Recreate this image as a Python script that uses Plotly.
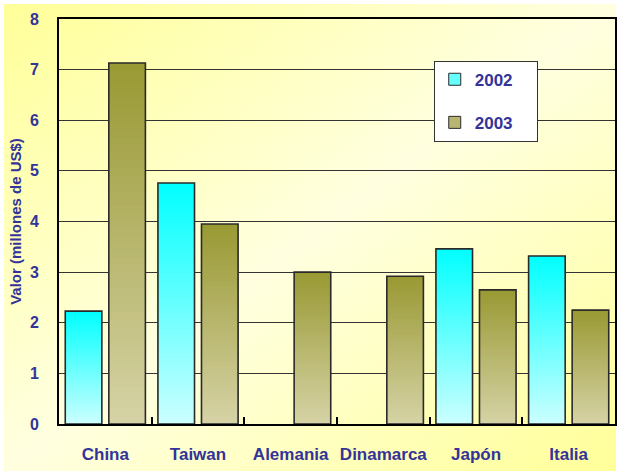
import base64
import plotly.graph_objects as go

categories = ["China", "Taiwan", "Alemania", "Dinamarca", "Japón", "Italia"]
values_2002 = [2.23, 4.76, None, None, 3.46, 3.32]
values_2003 = [7.13, 3.95, 3.00, 2.92, 2.65, 2.25]
series_names = ["2002", "2003"]
y_ticks = [0, 1, 2, 3, 4, 5, 6, 7, 8]

TXT = "#333399"
FONT = "Liberation Sans, Arial, sans-serif"

# gradient definitions (bottom colour, top colour)
grads = {
    "2002": ((0xCC, 0xFF, 0xFF), (0x00, 0xFF, 0xFF)),
    "2003": ((0xD6, 0xD3, 0xA6), (0x99, 0x99, 0x33)),
}
legend_colors = {"2002": "#66FFFF", "2003": "#B8B573"}

N = 48


def lerp(c0, c1, t):
    return "rgb(%d,%d,%d)" % tuple(round(a + (b - a) * t) for a, b in zip(c0, c1))


fig = go.Figure()

for name, vals in zip(series_names, [values_2002, values_2003]):
    c_bot, c_top = grads[name]
    # overlaid bars, tallest first, each shorter one painted on top -> vertical gradient
    for i in range(N):
        frac = (N - i) / N
        seg_y = [None if v is None else v * frac for v in vals]
        fig.add_trace(go.Bar(
            x=categories, y=seg_y, offsetgroup=name,
            marker=dict(color=lerp(c_bot, c_top, (N - i - 0.5) / N),
                        line=dict(width=0)),
            showlegend=False, hoverinfo="skip", legendgroup=name,
        ))
    # outline
    fig.add_trace(go.Bar(
        x=categories, y=vals, offsetgroup=name, name=name,
        marker=dict(color="rgba(0,0,0,0)", line=dict(color="#2a2a2a", width=1.6)),
        showlegend=False, legendgroup=name,
    ))
    # legend entry (non-breaking spaces only widen the legend box)
    fig.add_trace(go.Bar(
        x=[None], y=[None], offsetgroup=name, name=name + "\u00a0" * 4, legendgroup=name,
        marker=dict(color=legend_colors[name], line=dict(color="#2a2a2a", width=1)),
        showlegend=True,
    ))

# background gradient as SVG image
W, H = 619, 474
svg = f'''<svg xmlns="http://www.w3.org/2000/svg" width="{W}" height="{H}" viewBox="0 0 {W} {H}" preserveAspectRatio="none">
<defs><linearGradient id="g" x1="0" y1="0" x2="1" y2="1">
<stop offset="0" stop-color="#FFFF99"/>
<stop offset="0.5" stop-color="#FFFFE0"/>
<stop offset="1" stop-color="#FFFF99"/>
</linearGradient></defs>
<rect x="0" y="0" width="{W}" height="{H}" fill="#FFFFFF"/>
<rect x="4" y="4" width="{W-7}" height="{H-7}" fill="url(#g)"/>
</svg>'''
src = "data:image/svg+xml;base64," + base64.b64encode(svg.encode()).decode()

ml, mr, mt, mb = 59, 4, 19, 50
pw, ph = W - ml - mr, H - mt - mb

fig.add_layout_image(dict(
    source=src, xref="paper", yref="paper",
    x=-ml / pw, y=1 + mt / ph, sizex=W / pw, sizey=H / ph,
    xanchor="left", yanchor="top", sizing="stretch", layer="below",
))

fig.update_layout(
    width=W, height=H,
    margin=dict(l=ml, r=mr, t=mt, b=mb, autoexpand=False),
    paper_bgcolor="#FFFFFF", plot_bgcolor="rgba(0,0,0,0)",
    barmode="group", bargap=0.06, bargroupgap=0.16,
    font=dict(family=FONT, color=TXT, weight="bold"),
    showlegend=True,
    legend=dict(
        x=0.674, y=0.897, xanchor="left", yanchor="top",
        bgcolor="#FFFFFF", bordercolor="#333333", borderwidth=1,
        font=dict(family=FONT, size=17, color=TXT, weight="bold"),
        traceorder="grouped", tracegroupgap=18,
    ),
    xaxis=dict(
        type="category", categoryorder="array", categoryarray=categories,
        showline=True, linecolor="#000000", linewidth=2, mirror=True,
        ticks="inside", tickson="boundaries", ticklen=7, tickcolor="#000000", tickwidth=1.5,
        tickfont=dict(family=FONT, size=17, color=TXT, weight="bold"),
        tickangle=0, automargin=False,
        ticklabelstandoff=14, showgrid=False,
    ),
    yaxis=dict(
        range=[0, 8], tickvals=y_ticks, ticktext=[str(t) for t in y_ticks],
        showline=True, linecolor="#000000", linewidth=2, mirror=True,
        showgrid=True, gridcolor="#333333", gridwidth=1,
        ticks="", zeroline=False, automargin=False,
        tickfont=dict(family=FONT, size=16, color=TXT, weight="bold"),
        ticklabelstandoff=15,
        title=dict(text="Valor (millones de US$)", standoff=5,
                   font=dict(family=FONT, size=15, color=TXT, weight="bold")),
    ),
)

fig.write_html(
    "out.html",
    config={"displayModeBar": False},
    post_script="document.body.style.margin='0';document.body.style.padding='0';"
                "document.documentElement.style.overflow='hidden';",
)
